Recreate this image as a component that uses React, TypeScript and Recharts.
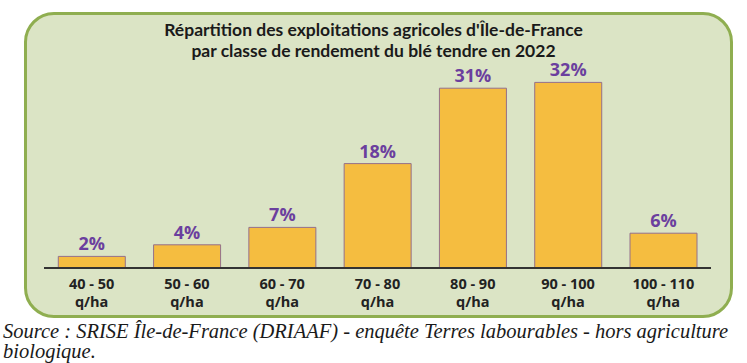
import { BarChart, Bar, XAxis, YAxis, LabelList } from "recharts"

const classes = ["40 - 50", "50 - 60", "60 - 70", "70 - 80", "80 - 90", "90 - 100", "100 - 110"]
const shares = [2, 4, 7, 18, 31, 32, 6]
const unit = "q/ha"

const data = classes.map((c, i) => ({ name: c, part: shares[i] }))

const ClassTick = (props: any) => {
  const { x, y, payload } = props
  return (
    <g>
      <text x={x} y={y + 13} textAnchor="middle" fill="#222" fontSize={14.5} fontWeight={700} fontFamily="Open Sans">
        {payload.value}
      </text>
      <text x={x} y={y + 31} textAnchor="middle" fill="#222" fontSize={14.5} fontWeight={700} fontFamily="Open Sans">
        {unit}
      </text>
    </g>
  )
}

export default function App() {
  return (
    <div style={{ position: "absolute", left: 0, top: 0, width: 747, height: 363, background: "#fff", overflow: "hidden" }}>
      <div
        style={{
          position: "absolute",
          left: 24,
          top: 12,
          width: 703,
          height: 300,
          background: "#dbe4c5",
          border: "3px solid #8fae50",
          borderRadius: 30,
        }}
      />
      <div
        style={{
          position: "absolute",
          left: 0,
          top: 19,
          width: 747,
          textAlign: "center",
          fontFamily: "Lato",
          fontWeight: 700,
          fontSize: 17.5,
          lineHeight: "21px",
          color: "#1a1a1a",
        }}
      >
        Répartition des exploitations agricoles d'Île-de-France
        <br />
        par classe de rendement du blé tendre en 2022
      </div>
      <div style={{ position: "absolute", left: 0, top: 0 }}>
        <BarChart width={747} height={363} data={data} margin={{ top: 36, right: 36, left: 44, bottom: 55 }} barCategoryGap="15%">
          <XAxis
            dataKey="name"
            axisLine={{ stroke: "#333", strokeWidth: 2 }}
            tickLine={false}
            tick={<ClassTick />}
            interval={0}
            height={40}
          />
          <YAxis hide domain={[0, 40]} />
          <Bar dataKey="part" fill="#f5bd40" stroke="#94708a" strokeWidth={1} isAnimationActive={false}>
            <LabelList
              dataKey="part"
              position="top"
              offset={6}
              formatter={(v: any) => `${v}%`}
              fill="#6b3f9e"
              fontSize={18}
              fontWeight={700}
              fontFamily="Open Sans"
            />
          </Bar>
        </BarChart>
      </div>
      <div
        style={{
          position: "absolute",
          left: 3,
          top: 321,
          width: 744,
          fontFamily: "Liberation Serif",
          fontStyle: "italic",
          fontSize: 20.5,
          lineHeight: "20px",
          color: "#1a1a1a",
        }}
      >
        Source : SRISE Île-de-France (DRIAAF) - enquête Terres labourables - hors agriculture biologique.
      </div>
    </div>
  )
}
